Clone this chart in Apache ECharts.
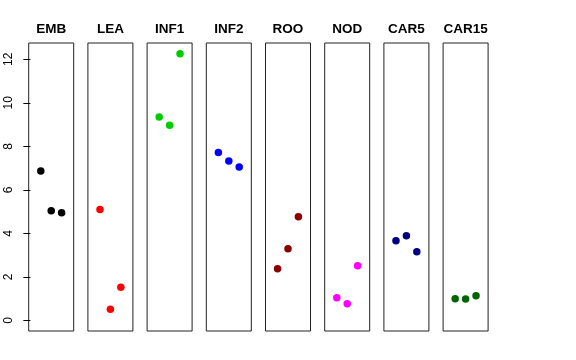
<!DOCTYPE html>
<html>
<head>
<meta charset="utf-8">
<script src="https://cdn.jsdelivr.net/npm/echarts@6/dist/echarts.min.js"></script>
<style>html,body{margin:0;padding:0;background:#fff}#c{width:576px;height:360px}</style>
</head>
<body>
<div id="c"></div>
<script>
const categories = ["EMB", "LEA", "INF1", "INF2", "ROO", "NOD", "CAR5", "CAR15"];
const EMB = [6.86, 5.04, 4.95];
const LEA = [5.09, 0.51, 1.52];
const INF1 = [9.35, 8.97, 12.26];
const INF2 = [7.72, 7.32, 7.05];
const ROO = [2.37, 3.29, 4.76];
const NOD = [1.04, 0.76, 2.51];
const CAR5 = [3.66, 3.89, 3.15];
const CAR15 = [0.99, 0.98, 1.13];
const replicates = [1, 2, 3];
const yTicks = [0, 2, 4, 6, 8, 10, 12];
const colors = ["#000000", "#FF0000", "#00CD00", "#0000FF", "#8B0000", "#FF00FF", "#000080", "#006400"];

const seriesValues = [EMB, LEA, INF1, INF2, ROO, NOD, CAR5, CAR15];
const panelLeft0 = 28.7, panelStep = 59.2, panelW = 45, panelTop = 43, panelH = 288;

const grids = [], xAxes = [], yAxes = [], series = [], titles = [];
categories.forEach((name, i) => {
  const left = panelLeft0 + i * panelStep;
  grids.push({left: left, top: panelTop, width: panelW, height: panelH, show: true,
    borderColor: '#222', borderWidth: 1, backgroundColor: 'transparent'});
  xAxes.push({gridIndex: i, type: 'value', min: -0.16, max: 4.16, show: false});
  yAxes.push({gridIndex: i, type: 'value', min: -0.49, max: 12.75, show: i === 0,
    splitLine: {show: false},
    axisLine: {show: false},
    axisTick: {show: true, length: 7, lineStyle: {color: '#000'}, customValues: yTicks},
    axisLabel: {show: true, rotate: 90, margin: 14, color: '#000', fontSize: 12,
      fontFamily: 'Liberation Sans, Arial, sans-serif', customValues: yTicks}
  });
  series.push({type: 'scatter', xAxisIndex: i, yAxisIndex: i, symbol: 'circle', symbolSize: 7.5,
    itemStyle: {color: colors[i], opacity: 1}, silent: true, animation: false,
    data: replicates.map((r, k) => [r, seriesValues[i][k]])});
  titles.push({text: name, left: left + panelW / 2, top: 22, textAlign: 'center', padding: 0,
    textStyle: {fontSize: 13.5, fontWeight: 'bold', color: '#000', fontFamily: 'Liberation Sans, Arial, sans-serif'}});
});

const chart = echarts.init(document.getElementById('c'), null, {renderer: 'canvas'});
chart.setOption({
  animation: false,
  backgroundColor: '#fff',
  title: titles,
  grid: grids,
  xAxis: xAxes,
  yAxis: yAxes,
  series: series
});
</script>
</body>
</html>
